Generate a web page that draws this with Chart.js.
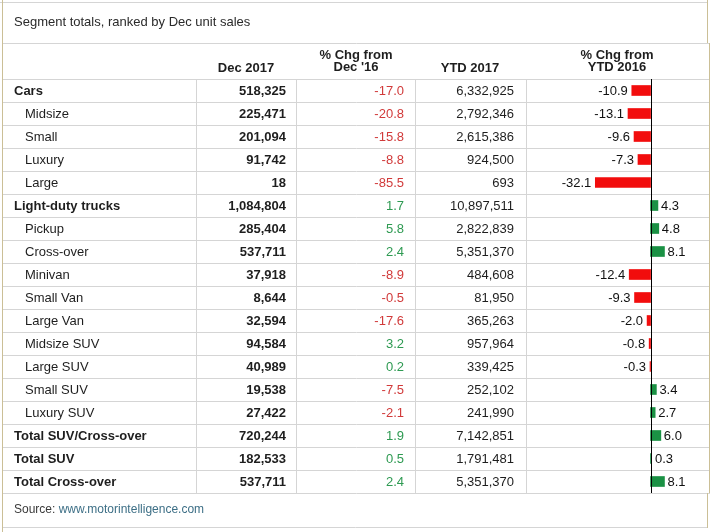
<!DOCTYPE html>
<html>
<head>
<meta charset="utf-8">
<script src="https://cdn.jsdelivr.net/npm/chart.js@4.4.0/dist/chart.umd.min.js"></script>
<style>
  html, body { margin: 0; padding: 0; background: #fff; }
  #wrap { width: 715px; height: 532px; position: relative; }
</style>
</head>
<body>
<div id="wrap"><canvas id="c"></canvas></div>
<script>
// ---- Data ----
const titleText = "Segment totals, ranked by Dec unit sales";
const sourceLabel = "Source: ";
const sourceLink = "www.motorintelligence.com";
const headers = [["Dec 2017"], ["% Chg from", "Dec '16"], ["YTD 2017"], ["% Chg from", "YTD 2016"]];
const categories = ["Cars","Midsize","Small","Luxury","Large","Light-duty trucks","Pickup","Cross-over","Minivan","Small Van","Large Van","Midsize SUV","Large SUV","Small SUV","Luxury SUV","Total SUV/Cross-over","Total SUV","Total Cross-over"];
const isTotal = [1,0,0,0,0,1,0,0,0,0,0,0,0,0,0,1,1,1];
const dec2017 = [518325,225471,201094,91742,18,1084804,285404,537711,37918,8644,32594,94584,40989,19538,27422,720244,182533,537711];
const chgDec = [-17.0,-20.8,-15.8,-8.8,-85.5,1.7,5.8,2.4,-8.9,-0.5,-17.6,3.2,0.2,-7.5,-2.1,1.9,0.5,2.4];
const ytd2017 = [6332925,2792346,2615386,924500,693,10897511,2822839,5351370,484608,81950,365263,957964,339425,252102,241990,7142851,1791481,5351370];
const chgYtd = [-10.9,-13.1,-9.6,-7.3,-32.1,4.3,4.8,8.1,-12.4,-9.3,-2.0,-0.8,-0.3,3.4,2.7,6.0,0.3,8.1];

// ---- Styles ----
const FONT = '"Liberation Sans", Arial, sans-serif';
const RED = '#f20d0d', GREEN = '#1a9144';
const RED_TXT = '#d13a3a', GREEN_TXT = '#2e9a52';
const GRID = '#d5d5d5', FRAME = '#cbbf96', TXT = '#1e1e1e';

const fmt = v => v.toLocaleString('en-US');

const tablePlugin = {
  id: 'tablePlugin',
  beforeDraw(chart) {
    const ctx = chart.ctx, ca = chart.chartArea, ys = chart.scales.y;
    ctx.save();
    ctx.fillStyle = '#fff';
    ctx.fillRect(0, 0, chart.width, chart.height);
    const band = ys.getPixelForValue(1) - ys.getPixelForValue(0);
    const top = ca.top, bottom = ca.bottom;
    ctx.lineWidth = 1;
    ctx.strokeStyle = GRID;
    const hline = (y, x1, x2) => { ctx.beginPath(); ctx.moveTo(x1, y + 0.5); ctx.lineTo(x2, y + 0.5); ctx.stroke(); };
    const vline = (x, y1, y2) => { ctx.beginPath(); ctx.moveTo(x + 0.5, y1); ctx.lineTo(x + 0.5, y2); ctx.stroke(); };
    hline(2, 0, 708);
    hline(43, 3, 710);
    for (let i = 0; i <= categories.length; i++) {
      const y = Math.round(ys.getPixelForValue(i) - band / 2);
      hline(y, 3, 710);
    }
    hline(527, 3, 708);
    [196, 296, 415, Math.round(ca.left)].forEach(x => vline(x, top, bottom));
    // frame
    ctx.strokeStyle = FRAME;
    vline(2, 0, 532);
    vline(707, 0, 43);
    vline(709, 43, bottom);
    vline(707, bottom, 528);
    ctx.restore();
  },
  afterDatasetsDraw(chart) {
    const ctx = chart.ctx, ca = chart.chartArea, ys = chart.scales.y, xs = chart.scales.x;
    ctx.save();
    // zero axis
    const x0 = Math.round(xs.getPixelForValue(0));
    ctx.strokeStyle = '#000';
    ctx.lineWidth = 1;
    ctx.beginPath(); ctx.moveTo(x0 + 0.5, ca.top); ctx.lineTo(x0 + 0.5, ca.bottom); ctx.stroke();

    ctx.textBaseline = 'middle';
    // title
    ctx.fillStyle = '#2a2a2a';
    ctx.font = '13px ' + FONT;
    ctx.textAlign = 'left';
    ctx.fillText(titleText, 14, 22);
    // headers
    ctx.font = 'bold 13px ' + FONT;
    ctx.fillStyle = TXT;
    ctx.textAlign = 'center';
    const hx = [246, 356, 470, 617];
    headers.forEach((h, i) => {
      if (h.length === 1) ctx.fillText(h[0], hx[i], 68);
      else { ctx.fillText(h[0], hx[i], 55); ctx.fillText(h[1], hx[i], 67); }
    });
    // rows
    const meta = chart.getDatasetMeta(0);
    categories.forEach((c, i) => {
      const y = ys.getPixelForValue(i) + 1;
      ctx.fillStyle = TXT;
      ctx.textAlign = 'left';
      ctx.font = (isTotal[i] ? 'bold ' : '') + '13px ' + FONT;
      ctx.fillText(c, isTotal[i] ? 14 : 25, y);
      ctx.textAlign = 'right';
      ctx.font = 'bold 13px ' + FONT;
      ctx.fillText(fmt(dec2017[i]), 286, y);
      ctx.font = '13px ' + FONT;
      ctx.fillStyle = chgDec[i] < 0 ? RED_TXT : GREEN_TXT;
      ctx.fillText(chgDec[i].toFixed(1), 404, y);
      ctx.fillStyle = TXT;
      ctx.fillText(fmt(ytd2017[i]), 514, y);
      // bar label
      const bar = meta.data[i];
      const v = chgYtd[i];
      ctx.fillStyle = '#111';
      if (v < 0) { ctx.textAlign = 'right'; ctx.fillText(v.toFixed(1), Math.min(bar.x, x0) - 4, y); }
      else { ctx.textAlign = 'left'; ctx.fillText(v.toFixed(1), Math.max(bar.x, x0 + 1) + 3, y); }
    });
    // source
    ctx.textAlign = 'left';
    ctx.font = '12px ' + FONT;
    ctx.fillStyle = '#3a3a3a';
    ctx.fillText(sourceLabel, 14, 510);
    const w = ctx.measureText(sourceLabel).width;
    ctx.fillStyle = '#3d6f86';
    ctx.fillText(sourceLink, 14 + w, 510);
    ctx.restore();
  }
};

new Chart(document.getElementById('c'), {
  type: 'bar',
  data: {
    labels: categories,
    datasets: [{
      data: chgYtd,
      backgroundColor: chgYtd.map(v => v < 0 ? RED : GREEN),
      borderWidth: 0,
      barThickness: 10
    }]
  },
  options: {
    indexAxis: 'y',
    responsive: true,
    maintainAspectRatio: false,
    animation: false,
    layout: { padding: { left: 526, right: 9, top: 79, bottom: 39 } },
    scales: {
      x: { display: false, min: -72.4, max: 32.25 },
      y: { display: false, offset: true }
    },
    plugins: { legend: { display: false }, tooltip: { enabled: false }, title: { display: false } }
  },
  plugins: [tablePlugin]
});
</script>
</body>
</html>
